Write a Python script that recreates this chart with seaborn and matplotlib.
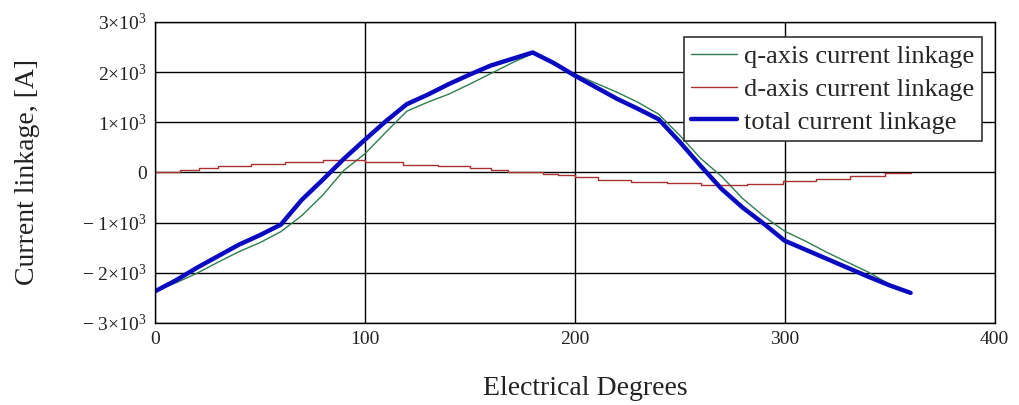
import numpy as np
import pandas as pd
import matplotlib
matplotlib.use("Agg")
import matplotlib.pyplot as plt
from matplotlib.ticker import FixedLocator, FuncFormatter
import seaborn as sns

# ---------------- data ----------------
angle = [0, 10, 20, 30, 40, 50, 60, 70, 80, 90, 100, 110, 120, 130, 140, 150,
         160, 170, 180, 190, 200, 210, 220, 230, 240, 250, 260, 270, 280, 290,
         300, 310, 320, 330, 340, 350, 360]

q_axis = [-2370, -2200, -2010, -1790, -1580, -1400, -1180, -860, -450, 40, 370,
          800, 1220, 1400, 1560, 1760, 1970, 2180, 2370, 2170, 1960, 1780, 1600,
          1400, 1160, 740, 280, -80, -520, -870, -1170, -1370, -1590, -1790,
          -1990, -2230, -2400]

total = [-2370, -2150, -1900, -1670, -1440, -1250, -1040, -545, -145, 270, 650,
         1020, 1360, 1550, 1760, 1950, 2130, 2260, 2390, 2180, 1930, 1700, 1470,
         1270, 1060, 610, 130, -330, -700, -1020, -1360, -1540, -1720, -1900,
         -2080, -2250, -2400]

# d-axis: stair-step values (step start angle, level)
d_angle = [0, 12, 21, 30, 46, 62, 80, 100, 118, 135, 150, 160, 168, 176, 185,
           192, 200, 211, 227, 244, 260, 282, 299, 315, 331, 348, 360]
d_axis = [0, 40, 90, 130, 165, 200, 245, 200, 155, 125, 90, 45, 15, 0, -30,
          -60, -100, -150, -185, -220, -250, -225, -170, -130, -80, -20, -20]

x_ticks = [0, 100, 200, 300, 400]
y_ticks = [-3000, -2000, -1000, 0, 1000, 2000, 3000]

labels = ["q-axis current linkage", "d-axis current linkage", "total current linkage"]

# ---------------- styling ----------------
sns.set_style("white")
plt.rcParams["font.family"] = ["Liberation Serif", "DejaVu Serif"]
plt.rcParams["mathtext.fontset"] = "custom"
plt.rcParams["mathtext.rm"] = "Liberation Serif"
plt.rcParams["mathtext.it"] = "Liberation Serif:italic"

fig = plt.figure(figsize=(10.19, 4.05), dpi=100)
ax = fig.add_axes([0.152, 0.2025, 0.824, 0.7435])

df_q = pd.DataFrame({"x": angle, "y": q_axis})
df_d = pd.DataFrame({"x": d_angle, "y": d_axis})
df_t = pd.DataFrame({"x": angle, "y": total})

sns.lineplot(data=df_q, x="x", y="y", ax=ax, color="#2e7d4f", lw=1.0,
             label=labels[0])
sns.lineplot(data=df_d, x="x", y="y", ax=ax, color="#a83232", lw=1.0,
             drawstyle="steps-post", label=labels[1])
sns.lineplot(data=df_t, x="x", y="y", ax=ax, color="#0a0ac0", lw=3.2,
             label=labels[2])

ax.set_xlim(0, 400)
ax.set_ylim(-3000, 3000)
ax.xaxis.set_major_locator(FixedLocator(x_ticks))
ax.yaxis.set_major_locator(FixedLocator(y_ticks))


def yfmt(v, pos):
    v = int(round(v))
    if v == 0:
        return "0"
    m = abs(v) // 1000
    s = r"$%d{\times}10^{3}$" % m
    return ("\u2212 " + s) if v < 0 else s


ax.yaxis.set_major_formatter(FuncFormatter(yfmt))
ax.xaxis.set_major_formatter(FuncFormatter(lambda v, p: "%d" % v))

ax.grid(True, color="black", lw=1.0)
ax.set_axisbelow(True)
for sp in ax.spines.values():
    sp.set_visible(True)
    sp.set_color("black")
    sp.set_linewidth(1.0)
ax.tick_params(axis="both", length=0, labelsize=14, pad=6, colors="#222222")

ax.set_xlabel("Electrical Degrees", fontsize=20, labelpad=20, color="#222222")
ax.xaxis.label.set_x(0.513)
ax.set_ylabel("Current linkage, [A]", fontsize=20, labelpad=30, color="#222222")

leg = ax.legend(loc="upper right", bbox_to_anchor=(0.9845, 0.950),
                borderaxespad=0, fontsize=19, frameon=True, fancybox=False,
                edgecolor="#333333", framealpha=1, handlelength=1.75,
                handletextpad=0.25, labelspacing=0.36, borderpad=0.28)
leg.get_frame().set_linewidth(1.2)

fig.savefig("out.png", dpi=100, facecolor="white")
